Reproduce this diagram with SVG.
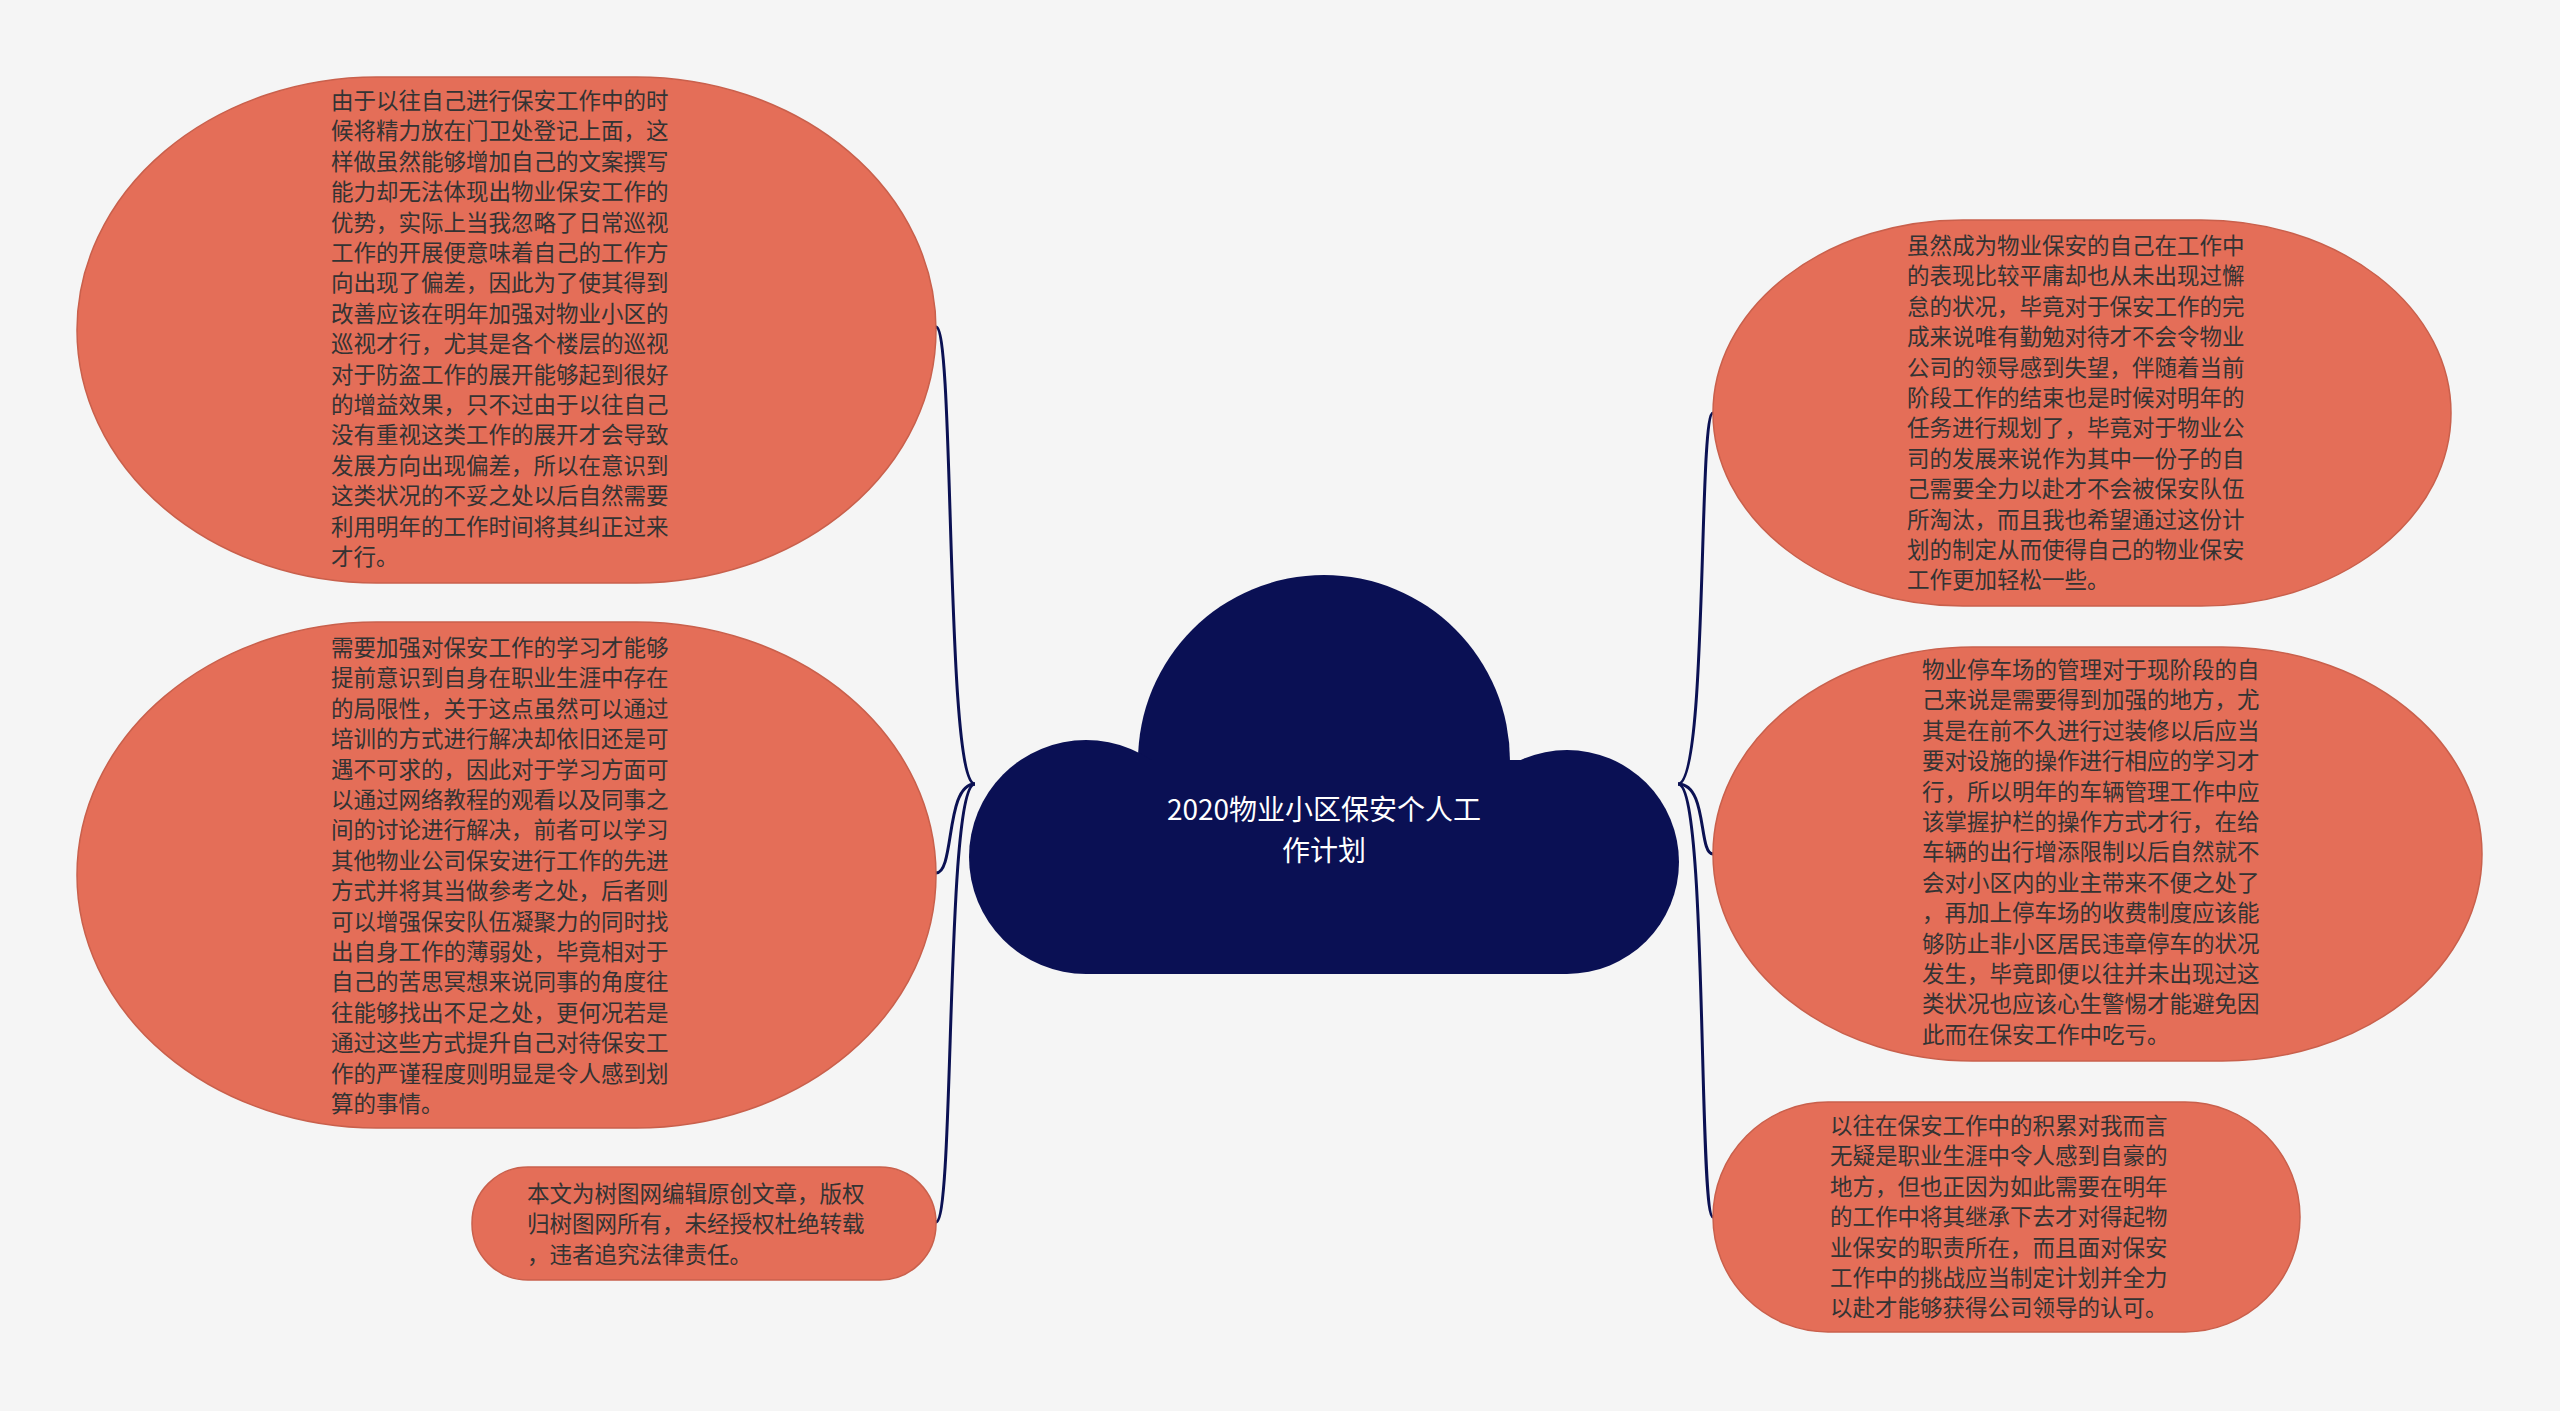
<svg xmlns="http://www.w3.org/2000/svg" width="2560" height="1411" viewBox="0 0 2560 1411">
<style>
.n{fill:#E46E58;stroke:#C9604C;stroke-width:1.5}
.t{font-family:"Noto Sans CJK SC","Liberation Sans",sans-serif;font-size:22.5px;fill:#333333}
.c{fill:none;stroke:#0B1153;stroke-width:3}
.w{font-family:"Noto Sans CJK SC","Liberation Sans",sans-serif;font-size:28px;fill:#ffffff;text-anchor:middle}
</style>
<rect width="2560" height="1411" fill="#F5F5F5"/>
<g id="connectors">
<path class="c" d="M975,784 C945,784 955,327 936,327"/>
<path class="c" d="M975,784 C945,784 955,873 936,873"/>
<path class="c" d="M975,784 C945,784 955,1222 936,1222"/>
<path class="c" d="M1678,784 C1708,784 1698,413 1713,413"/>
<path class="c" d="M1678,784 C1708,784 1698,854 1713,854"/>
<path class="c" d="M1678,784 C1708,784 1698,1217 1713,1217"/>
</g>
<g id="center">
<g fill="#0A1054">
<circle cx="1324" cy="761" r="186"/>
<circle cx="1086" cy="857" r="117"/>
<circle cx="1567" cy="862" r="112"/>
<rect x="1086" y="760" width="481" height="214"/>
</g>
<text class="w" x="1324" y="820">2020物业小区保安个人工</text>
<text class="w" x="1324" y="861">作计划</text>
</g>
<g id="left1">
<rect class="n" x="77" y="77" width="859" height="506" rx="300" ry="253"/>
<text class="t" x="331" y="109">
<tspan x="331">由于以往自己进行保安工作中的时</tspan><tspan x="331" dy="30.4">候将精力放在门卫处登记上面，这</tspan><tspan x="331" dy="30.4">样做虽然能够增加自己的文案撰写</tspan><tspan x="331" dy="30.4">能力却无法体现出物业保安工作的</tspan><tspan x="331" dy="30.4">优势，实际上当我忽略了日常巡视</tspan><tspan x="331" dy="30.4">工作的开展便意味着自己的工作方</tspan><tspan x="331" dy="30.4">向出现了偏差，因此为了使其得到</tspan><tspan x="331" dy="30.4">改善应该在明年加强对物业小区的</tspan><tspan x="331" dy="30.4">巡视才行，尤其是各个楼层的巡视</tspan><tspan x="331" dy="30.4">对于防盗工作的展开能够起到很好</tspan><tspan x="331" dy="30.4">的增益效果，只不过由于以往自己</tspan><tspan x="331" dy="30.4">没有重视这类工作的展开才会导致</tspan><tspan x="331" dy="30.4">发展方向出现偏差，所以在意识到</tspan><tspan x="331" dy="30.4">这类状况的不妥之处以后自然需要</tspan><tspan x="331" dy="30.4">利用明年的工作时间将其纠正过来</tspan><tspan x="331" dy="30.4">才行。</tspan>
</text>
</g>
<g id="left2">
<rect class="n" x="77" y="622" width="859" height="506" rx="300" ry="253"/>
<text class="t" x="331" y="656">
<tspan x="331">需要加强对保安工作的学习才能够</tspan><tspan x="331" dy="30.4">提前意识到自身在职业生涯中存在</tspan><tspan x="331" dy="30.4">的局限性，关于这点虽然可以通过</tspan><tspan x="331" dy="30.4">培训的方式进行解决却依旧还是可</tspan><tspan x="331" dy="30.4">遇不可求的，因此对于学习方面可</tspan><tspan x="331" dy="30.4">以通过网络教程的观看以及同事之</tspan><tspan x="331" dy="30.4">间的讨论进行解决，前者可以学习</tspan><tspan x="331" dy="30.4">其他物业公司保安进行工作的先进</tspan><tspan x="331" dy="30.4">方式并将其当做参考之处，后者则</tspan><tspan x="331" dy="30.4">可以增强保安队伍凝聚力的同时找</tspan><tspan x="331" dy="30.4">出自身工作的薄弱处，毕竟相对于</tspan><tspan x="331" dy="30.4">自己的苦思冥想来说同事的角度往</tspan><tspan x="331" dy="30.4">往能够找出不足之处，更何况若是</tspan><tspan x="331" dy="30.4">通过这些方式提升自己对待保安工</tspan><tspan x="331" dy="30.4">作的严谨程度则明显是令人感到划</tspan><tspan x="331" dy="30.4">算的事情。</tspan>
</text>
</g>
<g id="left3">
<rect class="n" x="472" y="1167" width="464" height="113" rx="56" ry="56"/>
<text class="t" x="527" y="1202">
<tspan x="527">本文为树图网编辑原创文章，版权</tspan><tspan x="527" dy="30.4">归树图网所有，未经授权杜绝转载</tspan><tspan x="527" dy="30.4">，违者追究法律责任。</tspan>
</text>
</g>
<g id="right1">
<rect class="n" x="1713" y="220" width="738" height="386" rx="250" ry="193"/>
<text class="t" x="1907" y="254">
<tspan x="1907">虽然成为物业保安的自己在工作中</tspan><tspan x="1907" dy="30.4">的表现比较平庸却也从未出现过懈</tspan><tspan x="1907" dy="30.4">怠的状况，毕竟对于保安工作的完</tspan><tspan x="1907" dy="30.4">成来说唯有勤勉对待才不会令物业</tspan><tspan x="1907" dy="30.4">公司的领导感到失望，伴随着当前</tspan><tspan x="1907" dy="30.4">阶段工作的结束也是时候对明年的</tspan><tspan x="1907" dy="30.4">任务进行规划了，毕竟对于物业公</tspan><tspan x="1907" dy="30.4">司的发展来说作为其中一份子的自</tspan><tspan x="1907" dy="30.4">己需要全力以赴才不会被保安队伍</tspan><tspan x="1907" dy="30.4">所淘汰，而且我也希望通过这份计</tspan><tspan x="1907" dy="30.4">划的制定从而使得自己的物业保安</tspan><tspan x="1907" dy="30.4">工作更加轻松一些。</tspan>
</text>
</g>
<g id="right2">
<rect class="n" x="1713" y="647" width="769" height="414" rx="260" ry="207"/>
<text class="t" x="1922" y="678">
<tspan x="1922">物业停车场的管理对于现阶段的自</tspan><tspan x="1922" dy="30.4">己来说是需要得到加强的地方，尤</tspan><tspan x="1922" dy="30.4">其是在前不久进行过装修以后应当</tspan><tspan x="1922" dy="30.4">要对设施的操作进行相应的学习才</tspan><tspan x="1922" dy="30.4">行，所以明年的车辆管理工作中应</tspan><tspan x="1922" dy="30.4">该掌握护栏的操作方式才行，在给</tspan><tspan x="1922" dy="30.4">车辆的出行增添限制以后自然就不</tspan><tspan x="1922" dy="30.4">会对小区内的业主带来不便之处了</tspan><tspan x="1922" dy="30.4">，再加上停车场的收费制度应该能</tspan><tspan x="1922" dy="30.4">够防止非小区居民违章停车的状况</tspan><tspan x="1922" dy="30.4">发生，毕竟即便以往并未出现过这</tspan><tspan x="1922" dy="30.4">类状况也应该心生警惕才能避免因</tspan><tspan x="1922" dy="30.4">此而在保安工作中吃亏。</tspan>
</text>
</g>
<g id="right3">
<rect class="n" x="1713" y="1102" width="587" height="230" rx="115" ry="115"/>
<text class="t" x="1830" y="1134">
<tspan x="1830">以往在保安工作中的积累对我而言</tspan><tspan x="1830" dy="30.4">无疑是职业生涯中令人感到自豪的</tspan><tspan x="1830" dy="30.4">地方，但也正因为如此需要在明年</tspan><tspan x="1830" dy="30.4">的工作中将其继承下去才对得起物</tspan><tspan x="1830" dy="30.4">业保安的职责所在，而且面对保安</tspan><tspan x="1830" dy="30.4">工作中的挑战应当制定计划并全力</tspan><tspan x="1830" dy="30.4">以赴才能够获得公司领导的认可。</tspan>
</text>
</g>
</svg>
